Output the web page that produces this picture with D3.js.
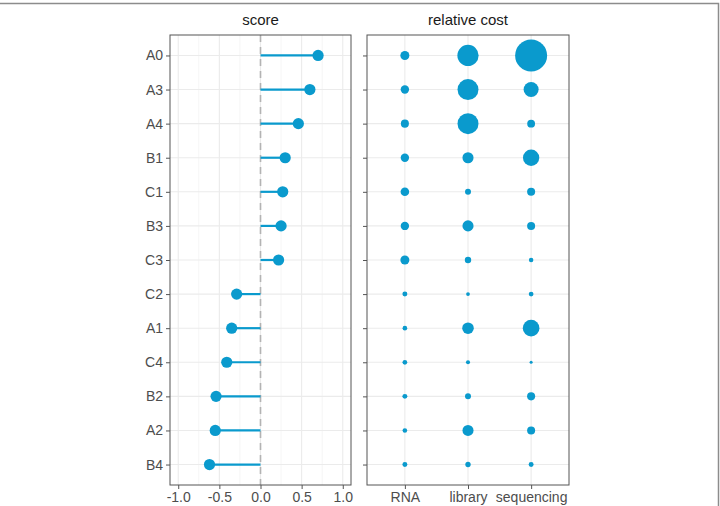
<!DOCTYPE html>
<html>
<head>
<meta charset="utf-8">
<script src="https://cdn.jsdelivr.net/npm/d3@7"></script>
<style>
  body { margin: 0; background: #fff; }
  text { font-family: "Liberation Sans", Arial, sans-serif; }
</style>
</head>
<body>
<div id="chart"></div>
<script>
// methods, top to bottom
var methods = ["A0", "A3", "A4", "B1", "C1", "B3", "C3", "C2", "A1", "C4", "B2", "A2", "B4"];
var scores  = [0.70, 0.60, 0.46, 0.30, 0.27, 0.25, 0.22, -0.29, -0.35, -0.41, -0.54, -0.55, -0.62];

var costTypes = ["RNA", "library", "sequencing"];
// relative cost per method (same order as methods)
var costRNA        = [0.79, 0.69, 0.63, 0.69, 0.72, 0.69, 0.79, 0.24, 0.21, 0.22, 0.24, 0.21, 0.24];
var costLibrary    = [4.40, 4.30, 4.30, 1.20, 0.35, 1.20, 0.40, 0.14, 1.30, 0.16, 0.35, 1.20, 0.28];
var costSequencing = [10.0, 2.20, 0.60, 2.60, 0.63, 0.63, 0.20, 0.22, 2.70, 0.09, 0.63, 0.63, 0.24];

var scoreTicks = [-1.0, -0.5, 0.0, 0.5, 1.0];
var scoreMinor = [-0.75, -0.25, 0.25, 0.75];

var W = 720, H = 506;
var blue = "#0a9acd";
var panelTop = 35, panelBottom = 485;

var svg = d3.select("#chart").append("svg")
    .attr("width", W).attr("height", H);

// outer frame (top and right edges show in the picture)
svg.append("path")
    .attr("d", "M0,3.5H718.5V" + H)
    .style("fill", "none").style("stroke", "#8c8c8c").style("stroke-width", 1.5);

var y = d3.scalePoint().domain(methods).range([panelTop, panelBottom]).padding(0.6);

// ---------- left panel: score ----------
var L = {left: 170, right: 351};
var x = d3.scaleLinear().domain([-1.1, 1.1]).range([L.left, L.right]);

var gL = svg.append("g");

gL.selectAll(".minor").data(scoreMinor).enter().append("line")
    .attr("x1", function(d) { return x(d); }).attr("x2", function(d) { return x(d); })
    .attr("y1", panelTop).attr("y2", panelBottom)
    .style("stroke", "#f2f2f2").style("stroke-width", 0.8);

gL.selectAll(".vgrid").data(scoreTicks).enter().append("line")
    .attr("x1", function(d) { return x(d); }).attr("x2", function(d) { return x(d); })
    .attr("y1", panelTop).attr("y2", panelBottom)
    .style("stroke", "#ebebeb").style("stroke-width", 1.1);

gL.selectAll(".hgrid").data(methods).enter().append("line")
    .attr("x1", L.left).attr("x2", L.right)
    .attr("y1", function(d) { return y(d); }).attr("y2", function(d) { return y(d); })
    .style("stroke", "#ebebeb").style("stroke-width", 1.1);

// zero line
gL.append("line")
    .attr("x1", x(0)).attr("x2", x(0)).attr("y1", panelTop).attr("y2", panelBottom)
    .style("stroke", "#b3b3b3").style("stroke-width", 1.6)
    .style("stroke-dasharray", "7,5");

var rowsL = methods.map(function(m, i) { return {m: m, s: scores[i]}; });

gL.selectAll(".stick").data(rowsL).enter().append("line")
    .attr("x1", x(0)).attr("x2", function(d) { return x(d.s); })
    .attr("y1", function(d) { return y(d.m); }).attr("y2", function(d) { return y(d.m); })
    .style("stroke", blue).style("stroke-width", 2.2);

gL.selectAll(".dot").data(rowsL).enter().append("circle")
    .attr("cx", function(d) { return x(d.s); })
    .attr("cy", function(d) { return y(d.m); })
    .attr("r", 5.6)
    .style("fill", blue);

gL.append("rect")
    .attr("x", L.left).attr("y", panelTop).attr("width", L.right - L.left).attr("height", panelBottom - panelTop)
    .style("fill", "none").style("stroke", "#555").style("stroke-width", 1);

gL.append("g").attr("transform", "translate(" + L.left + ",0)")
    .call(d3.axisLeft(y).tickSize(4).tickPadding(3));
gL.append("g").attr("transform", "translate(0," + panelBottom + ")")
    .call(d3.axisBottom(x).tickValues(scoreTicks).tickSize(4).tickPadding(3)
        .tickFormat(function(d) { return d.toFixed(1); }));

gL.append("text").attr("x", (L.left + L.right) / 2).attr("y", 25)
    .attr("text-anchor", "middle").style("font-size", "15px").style("fill", "#1a1a1a")
    .text("score");

// ---------- right panel: relative cost ----------
var R = {left: 367, right: 569};
var xc = d3.scalePoint().domain(costTypes).range([R.left, R.right]).padding(0.6);
var rs = d3.scaleSqrt().domain([0, 10]).range([0, 16]);

var gR = svg.append("g");

gR.selectAll(".vgrid").data(costTypes).enter().append("line")
    .attr("x1", function(d) { return xc(d); }).attr("x2", function(d) { return xc(d); })
    .attr("y1", panelTop).attr("y2", panelBottom)
    .style("stroke", "#ebebeb").style("stroke-width", 1.1);

gR.selectAll(".hgrid").data(methods).enter().append("line")
    .attr("x1", R.left).attr("x2", R.right)
    .attr("y1", function(d) { return y(d); }).attr("y2", function(d) { return y(d); })
    .style("stroke", "#ebebeb").style("stroke-width", 1.1);

var costCols = [costRNA, costLibrary, costSequencing];
var cells = [];
methods.forEach(function(m, i) {
    costTypes.forEach(function(c, j) {
        cells.push({m: m, c: c, v: costCols[j][i]});
    });
});

gR.selectAll(".bubble").data(cells).enter().append("circle")
    .attr("cx", function(d) { return xc(d.c); })
    .attr("cy", function(d) { return y(d.m); })
    .attr("r", function(d) { return rs(d.v); })
    .style("fill", blue);

gR.append("rect")
    .attr("x", R.left).attr("y", panelTop).attr("width", R.right - R.left).attr("height", panelBottom - panelTop)
    .style("fill", "none").style("stroke", "#555").style("stroke-width", 1);

gR.append("g").attr("transform", "translate(" + R.left + ",0)")
    .call(d3.axisLeft(y).tickSize(4).tickFormat(""));
gR.append("g").attr("transform", "translate(0," + panelBottom + ")")
    .call(d3.axisBottom(xc).tickSize(4).tickPadding(3));

gR.append("text").attr("x", (R.left + R.right) / 2).attr("y", 25)
    .attr("text-anchor", "middle").style("font-size", "15px").style("fill", "#1a1a1a")
    .text("relative cost");

// axis styling like ggplot
svg.selectAll(".domain").remove();
svg.selectAll(".tick line").style("stroke", "#555");
svg.selectAll(".tick text")
    .style("font-family", "'Liberation Sans', Arial, sans-serif")
    .style("font-size", "14px").style("fill", "#4d4d4d");
</script>
</body>
</html>
